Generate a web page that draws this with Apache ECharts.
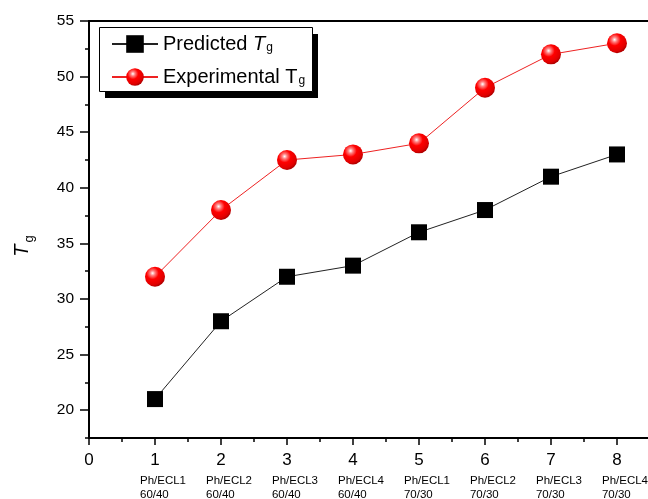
<!DOCTYPE html>
<html>
<head>
<meta charset="utf-8">
<script src="https://cdn.jsdelivr.net/npm/echarts@6/dist/echarts.min.js"></script>
<style>html,body{margin:0;padding:0;background:#fff}#c{width:648px;height:499px}</style>
</head>
<body>
<div id="c"></div>
<script>
const xPositions = [1, 2, 3, 4, 5, 6, 7, 8];
const categories = ['Ph/ECL1\n60/40', 'Ph/ECL2\n60/40', 'Ph/ECL3\n60/40', 'Ph/ECL4\n60/40',
                    'Ph/ECL1\n70/30', 'Ph/ECL2\n70/30', 'Ph/ECL3\n70/30', 'Ph/ECL4\n70/30'];
const predicted = [21, 28, 32, 33, 36, 38, 41, 43];
const experimental = [32, 38, 42.5, 43, 44, 49, 52, 53];
const yMajorTicks = [20, 25, 30, 35, 40, 45, 50, 55];
const xMajorTicks = [0, 1, 2, 3, 4, 5, 6, 7, 8];

const font = 'Arial, "Liberation Sans", sans-serif';
const chart = echarts.init(document.getElementById('c'));
const X_MAX = 8.47;

const sphere = {
  type: 'radial', x: 0.38, y: 0.32, r: 0.68,
  colorStops: [
    {offset: 0, color: '#ffffff'},
    {offset: 0.18, color: '#ff8080'},
    {offset: 0.45, color: '#ff0000'},
    {offset: 0.85, color: '#e00000'},
    {offset: 1, color: '#b00000'}
  ]
};

chart.setOption({
  animation: false,
  backgroundColor: '#fff',
  grid: {left: 89, right: 0, top: 21, bottom: 61, containLabel: false, outerBoundsMode: 'none'},
  graphic: [
    {
      type: 'text', x: 22, y: 246, rotation: Math.PI / 2, z: 10,
      style: {
        text: '{it|T}{sub|g}',
        align: 'center', verticalAlign: 'middle',
        rich: {
          it: {fontFamily: font, fontSize: 20, fontStyle: 'italic', fill: '#000'},
          sub: {fontFamily: font, fontSize: 13, fill: '#000', verticalAlign: 'bottom', padding: [14, 0, 0, 2]}
        }
      }
    },
    {
      type: 'rect', z: 3,
      shape: {x: 105, y: 34, width: 213, height: 64},
      style: {fill: '#000'}
    },
    {
      type: 'rect', z: 3,
      shape: {x: 99.5, y: 27.5, width: 213, height: 64},
      style: {fill: '#fff', stroke: '#000', lineWidth: 1}
    }
  ],
  legend: {
    orient: 'vertical',
    left: 111, top: 28,
    padding: 0,
    itemWidth: 46, itemHeight: 22, itemGap: 7,
    data: ['Predicted', 'Experimental'],
    formatter: function (name) {
      if (name === 'Predicted') return '{n|Predicted }{it|T}{sub|g}';
      return '{n|Experimental T}{sub|g}';
    },
    textStyle: {
      fontFamily: font, fontSize: 20, color: '#000', lineHeight: 20,
      rich: {
        n: {fontFamily: font, fontSize: 20, color: '#000', lineHeight: 20},
        it: {fontFamily: font, fontSize: 20, fontStyle: 'italic', color: '#000', lineHeight: 20},
        sub: {fontFamily: font, fontSize: 12, color: '#000', lineHeight: 20, verticalAlign: 'bottom', padding: [14, 0, 0, 1]}
      }
    }
  },
  xAxis: [
    {
      type: 'value', min: 0, max: X_MAX, interval: 0.5,
      axisLine: {show: true, onZero: false, lineStyle: {color: '#000', width: 2}},
      axisTick: {show: true, length: 4, lineStyle: {color: '#000', width: 1.5}},
      splitLine: {show: false},
      axisLabel: {
        margin: 8,
        showMaxLabel: false,
        formatter: function (v) {
          if (Math.abs(v - Math.round(v)) > 1e-6) return '';
          const i = xPositions.indexOf(Math.round(v));
          if (i < 0) return '{num|' + Math.round(v) + '}';
          const parts = categories[i].split('\n');
          return '{num|' + Math.round(v) + '}\n{cat|' + parts[0] + '}\n{cat|' + parts[1] + '}';
        },
        rich: {
          num: {fontFamily: font, fontSize: 17, color: '#000', lineHeight: 28, align: 'center'},
          cat: {fontFamily: font, fontSize: 11.5, color: '#000', lineHeight: 14, align: 'left', padding: [0, 0, 0, 16]}
        }
      }
    },
    {
      type: 'value', min: 0, max: X_MAX, position: 'bottom',
      axisLine: {show: false},
      axisTick: {show: true, length: 7, customValues: xMajorTicks, lineStyle: {color: '#000', width: 1.5}},
      axisLabel: {show: false},
      splitLine: {show: false}
    },
    {
      type: 'value', min: 0, max: X_MAX, position: 'top',
      axisLine: {show: true, onZero: false, lineStyle: {color: '#000', width: 2}},
      axisTick: {show: false}, axisLabel: {show: false}, splitLine: {show: false}
    }
  ],
  yAxis: [
    {
      type: 'value', min: 17.5, max: 55, interval: 2.5,
      axisLine: {show: true, onZero: false, lineStyle: {color: '#000', width: 2}},
      axisTick: {show: true, length: 4, lineStyle: {color: '#000', width: 1.5}},
      splitLine: {show: false},
      axisLabel: {
        margin: 15,
        fontFamily: font, fontSize: 15.5, color: '#000',
        formatter: function (v) { return (Math.abs(v % 5) < 1e-6) ? String(v) : ''; }
      }
    },
    {
      type: 'value', min: 17.5, max: 55, position: 'left',
      axisLine: {show: false},
      axisTick: {show: true, length: 9, customValues: yMajorTicks, lineStyle: {color: '#000', width: 1.5}},
      axisLabel: {show: false},
      splitLine: {show: false}
    }
  ],
  series: [
    {
      name: 'Predicted', type: 'line',
      xAxisIndex: 0, yAxisIndex: 0,
      data: xPositions.map((x, i) => [x, predicted[i]]),
      symbol: 'rect', symbolSize: 16,
      lineStyle: {color: '#222', width: 1},
      itemStyle: {color: '#000'}
    },
    {
      name: 'Experimental', type: 'line',
      xAxisIndex: 0, yAxisIndex: 0,
      data: xPositions.map((x, i) => [x, experimental[i]]),
      symbol: 'circle', symbolSize: 20,
      lineStyle: {color: '#ee2222', width: 1},
      itemStyle: {color: sphere}
    }
  ]
});
</script>
</body>
</html>
